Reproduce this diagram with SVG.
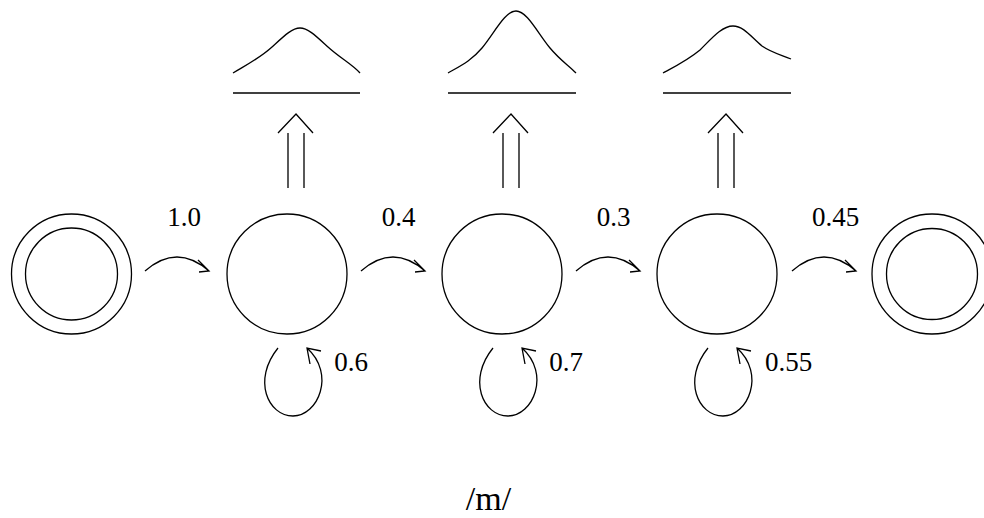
<svg xmlns="http://www.w3.org/2000/svg" xmlns:xlink="http://www.w3.org/1999/xlink" width="984" height="518" viewBox="0 0 984 518">
<style>
.ln{fill:none;stroke:#000;stroke-width:1.3;stroke-linejoin:miter}
.lbl{font-size:27px;fill:#000;text-anchor:middle}
.big{font-size:34px}
</style>
<defs>
<path id="harrow" class="ln" d="M145,271 Q177,243 209,271 M198,260 L209,271 L199,272"/>
<path id="loop" class="ln" d="M278,348 C252,380 268,416 293,416 C318,416 336,374 307,348 M321,351 L307,348 L310,364"/>
<path id="dbl" class="ln" d="M288,133 V188 M304,133 V188 M278,133 L296,114 L313,133"/>
</defs>
<rect width="984" height="518" fill="#fff"/>
<g id="start">
<circle class="ln" cx="71.5" cy="274" r="60"/>
<circle class="ln" cx="71.5" cy="274" r="46"/>
</g>
<g id="s1"><circle class="ln" cx="287" cy="274" r="60"/></g>
<g id="s2"><circle class="ln" cx="502" cy="274" r="60"/></g>
<g id="s3"><circle class="ln" cx="717" cy="274" r="60"/></g>
<g id="end">
<circle class="ln" cx="932" cy="274" r="60"/>
<circle class="ln" cx="932" cy="274" r="45.5"/>
</g>
<g id="pdf1">
<path class="ln" d="M233,73 C248,64 260,58 272,47 C284,36 292,28 300,28 C308,28 316,36 328,47 C340,58 352,64 360,73"/>
<path class="ln" d="M233,93 H360"/>
</g>
<g id="pdf2">
<path class="ln" d="M448,73 C462,65 472,60 482,48 C495,32 505,11 516,11 C527,11 537,32 550,48 C560,60 568,65 576,73"/>
<path class="ln" d="M448,93 H576"/>
</g>
<g id="pdf3">
<path class="ln" d="M663,73 C678,65 688,60 700,50 C712,38 722,26 733,26 C744,26 752,38 762,46 C772,53 782,55 791,59"/>
<path class="ln" d="M663,93 H791"/>
</g>
<g id="connectors">
<use xlink:href="#harrow"/>
<use xlink:href="#harrow" transform="translate(216,0)"/>
<use xlink:href="#harrow" transform="translate(431,0)"/>
<use xlink:href="#harrow" transform="translate(647,0)"/>
<use xlink:href="#loop"/>
<use xlink:href="#loop" transform="translate(215,0)"/>
<use xlink:href="#loop" transform="translate(430,0)"/>
<use xlink:href="#dbl"/>
<use xlink:href="#dbl" transform="translate(215,0)"/>
<use xlink:href="#dbl" transform="translate(430,0)"/>
</g>
<g id="labels" font-family="'Liberation Serif', 'Times New Roman', 'DejaVu Serif', serif">
<text class="lbl" x="184" y="226">1.0</text>
<text class="lbl" x="398.5" y="226">0.4</text>
<text class="lbl" x="613.5" y="226">0.3</text>
<text class="lbl" x="835.5" y="226">0.45</text>
<text class="lbl" x="351" y="371">0.6</text>
<text class="lbl" x="566" y="371">0.7</text>
<text class="lbl" x="788.5" y="371">0.55</text>
<text class="lbl big" x="488.5" y="510">/m/</text>
</g>
</svg>
